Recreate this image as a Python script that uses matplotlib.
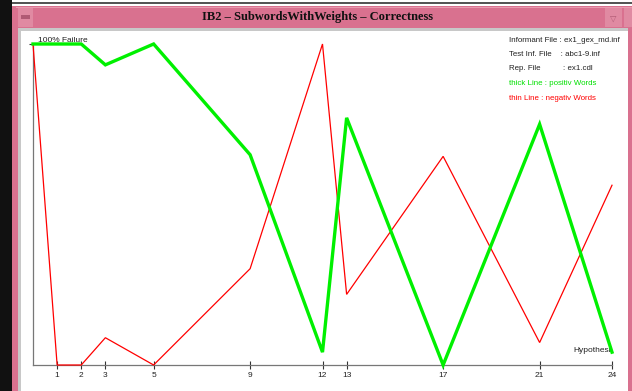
import matplotlib
matplotlib.use("Agg")
from matplotlib import pyplot as plt
from matplotlib.patches import Rectangle

# hypotheses where a measurement was taken
hyp = [0, 1, 2, 3, 5, 9, 12, 13, 17, 21, 24]
# failure rate, thick line = positive words, thin line = negative words
positiv = [1.0, 1.0, 1.0, 0.935, 1.0, 0.655, 0.04, 0.77, 0.0, 0.75, 0.04]
negativ = [1.0, 0.0, 0.0, 0.085, 0.0, 0.30, 1.0, 0.22, 0.65, 0.07, 0.56]
tick_labels = ["1", "2", "3", "5", "9", "12", "13", "17", "21", "24"]
info_lines = ["Informant File : ex1_gex_md.inf",
              "Test Inf. File    : abc1-9.inf",
              "Rep. File          : ex1.cdl"]

W, H = 632, 391
fig = plt.figure(figsize=(W / 100, H / 100), dpi=100)
fig.patch.set_facecolor("white")

def px_rect(x0, y0, x1, y1, col):
    # rectangle given in pixel coords from the top left, drawn behind the axes
    fig.patches.append(Rectangle((x0 / W, 1 - y1 / H), (x1 - x0) / W, (y1 - y0) / H,
                                 transform=fig.transFigure, facecolor=col,
                                 edgecolor="none", zorder=-5))

# window decoration
pink = "#d9718f"
px_rect(0, 0, 12, H, "#111111")
px_rect(12, 6, W, H, pink)
px_rect(16, 7, W, 8, "#e89aaf")
px_rect(18, 28, 628, H, "#c8c8c8")
px_rect(21, 31, 628, H, "white")
px_rect(18, 8, 33, 27, "#e08aa2")
px_rect(21, 15, 30, 19, "#b05a74")
px_rect(605, 8, 622, 27, "#e08aa2")
px_rect(624, 8, W, 27, "#e08aa2")
px_rect(12, 2, W, 4, "#555555")
fig.text(318 / W, 1 - 17 / H, "IB2 – SubwordsWithWeights – Correctness",
         ha="center", va="center", fontsize=9, fontweight="bold",
         family="Liberation Serif", color="#111111")
fig.text(613 / W, 1 - 18 / H, "▽", ha="center", va="center", fontsize=6, color="#b05a74")

x0, x1, ytop, ybot = 33, 612, 44, 365
ax = fig.add_axes([x0 / W, 1 - ybot / H, (x1 - x0) / W, (ybot - ytop) / H])
ax.set_facecolor("none")
ax.set_xlim(0, 24)
ax.set_ylim(0, 1)

ax.plot(hyp, negativ, color="#ff0000", lw=0.9, solid_joinstyle="miter", zorder=3, clip_on=False)
ax.plot(hyp, positiv, color="#00f000", lw=2.4, solid_joinstyle="miter", zorder=4, clip_on=False)

for s in ["top", "right"]:
    ax.spines[s].set_visible(False)
for s in ["left", "bottom"]:
    ax.spines[s].set_color("#777777")
    ax.spines[s].set_linewidth(0.9)

ax.set_xticks([float(t) for t in tick_labels])
ax.set_xticklabels(tick_labels)
ax.set_yticks([1.0])
ax.set_yticklabels([""])
ax.tick_params(axis="x", direction="inout", length=6, width=0.8, color="#333333",
               labelsize=6, labelcolor="#222222", pad=2)
ax.tick_params(axis="y", direction="out", length=3, width=0.8, color="#333333")
for lab in ax.get_xticklabels():
    lab.set_family("Liberation Sans")

ax.text(0.2, 1.0, "100% Failure", fontsize=6, family="Liberation Sans",
        color="#222222", va="bottom", ha="left")
ax.text(22.4, 0.035, "Hypothesis", fontsize=6, family="Liberation Sans",
        color="#222222", va="bottom", ha="left", clip_on=True)

tx, ty = 509 / W, 40 / H
for i, line in enumerate(info_lines):
    fig.text(tx, 1 - ty - i * 14.5 / H, line, fontsize=5.7, family="Liberation Sans",
             color="#222222", va="center")
fig.text(tx, 1 - ty - 3 * 14.5 / H, "thick Line : positiv Words", fontsize=5.7,
         family="Liberation Sans", color="#00e000", va="center")
fig.text(tx, 1 - ty - 4 * 14.5 / H, "thin Line : negativ Words", fontsize=5.7,
         family="Liberation Sans", color="#ff0000", va="center")

fig.savefig("out.png", dpi=100)
